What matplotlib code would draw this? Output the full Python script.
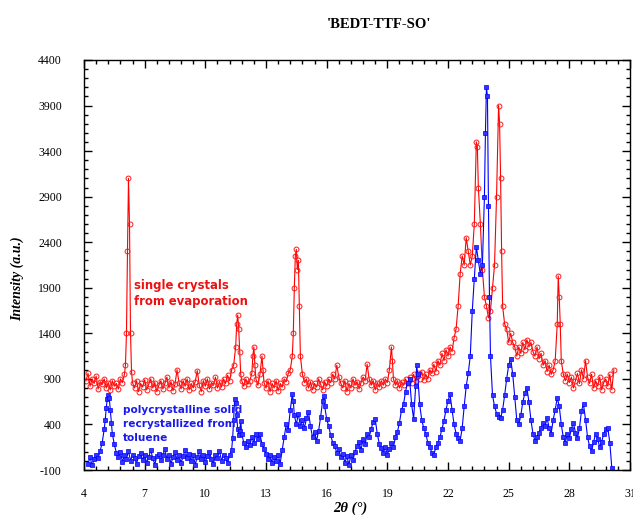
import matplotlib
matplotlib.use('Agg')
import matplotlib.pyplot as plt
from matplotlib.ticker import AutoMinorLocator

plt.rcParams['axes.unicode_minus'] = False

# single crystals from evaporation (red)
red_2theta = [
    4.1, 4.2, 4.3, 4.4, 4.5, 4.6, 4.7, 4.8, 4.9, 5.0,
    5.1, 5.2, 5.3, 5.4, 5.5, 5.6, 5.7, 5.8, 5.9, 6.0,
    6.05, 6.1, 6.15, 6.2, 6.25, 6.3, 6.35, 6.4, 6.5, 6.6,
    6.7, 6.8, 6.9, 7.0, 7.1, 7.2, 7.3, 7.4, 7.5, 7.6,
    7.7, 7.8, 7.9, 8.0, 8.1, 8.2, 8.3, 8.4, 8.5, 8.6,
    8.7, 8.8, 8.9, 9.0, 9.1, 9.2, 9.3, 9.4, 9.5, 9.6,
    9.7, 9.8, 9.9, 10.0, 10.1, 10.2, 10.3, 10.4, 10.5, 10.6,
    10.7, 10.8, 10.9, 11.0, 11.1, 11.2, 11.3, 11.4, 11.5, 11.55,
    11.6, 11.65, 11.7, 11.75, 11.8, 11.9, 12.0, 12.1, 12.2, 12.3,
    12.35, 12.4, 12.45, 12.5, 12.6, 12.7, 12.8, 12.85, 12.9, 13.0,
    13.1, 13.2, 13.3, 13.4, 13.5, 13.6, 13.7, 13.8, 13.9, 14.0,
    14.1, 14.2, 14.3, 14.35, 14.4, 14.45, 14.5, 14.55, 14.6, 14.65,
    14.7, 14.8, 14.9, 15.0, 15.1, 15.2, 15.3, 15.4, 15.5, 15.6,
    15.7, 15.8, 15.9, 16.0, 16.1, 16.2, 16.3, 16.4, 16.5, 16.6,
    16.7, 16.8, 16.9, 17.0, 17.1, 17.2, 17.3, 17.4, 17.5, 17.6,
    17.7, 17.8, 17.9, 18.0, 18.1, 18.2, 18.3, 18.4, 18.5, 18.6,
    18.7, 18.8, 18.9, 19.0, 19.1, 19.2, 19.25, 19.3, 19.4, 19.5,
    19.6, 19.7, 19.8, 19.9, 20.0, 20.1, 20.2, 20.3, 20.4, 20.5,
    20.6, 20.7, 20.8, 20.9, 21.0, 21.1, 21.2, 21.3, 21.4, 21.5,
    21.6, 21.7, 21.8, 21.9, 22.0, 22.1, 22.2, 22.3, 22.4, 22.5,
    22.6, 22.7, 22.8, 22.9, 23.0, 23.1, 23.2, 23.3, 23.4, 23.45,
    23.5, 23.6, 23.7, 23.8, 23.9, 24.0, 24.1, 24.2, 24.3, 24.4,
    24.5, 24.55, 24.6, 24.65, 24.7, 24.8, 24.9, 25.0, 25.1, 25.2,
    25.3, 25.4, 25.5, 25.6, 25.7, 25.8, 25.9, 26.0, 26.1, 26.2,
    26.3, 26.4, 26.5, 26.6, 26.7, 26.8, 26.9, 27.0, 27.1, 27.2,
    27.3, 27.4, 27.45, 27.5, 27.55, 27.6, 27.7, 27.8, 27.9, 28.0,
    28.1, 28.2, 28.3, 28.4, 28.5, 28.6, 28.7, 28.8, 28.9, 29.0,
    29.1, 29.2, 29.3, 29.4, 29.5, 29.6, 29.7, 29.8, 29.9, 30.0,
    30.1, 30.2,
]
red_counts = [
    880, 960, 820, 900, 850, 930, 790, 870, 840, 900,
    800, 860, 780, 880, 820, 850, 790, 900, 860, 950,
    1050, 1400, 2300, 3100, 2600, 1400, 980, 860, 800, 880,
    760, 850, 810, 890, 780, 840, 900, 800, 860, 760,
    830, 880, 790, 850, 920, 800, 870, 770, 840, 1000,
    860, 790, 880, 820, 900, 780, 850, 800, 870, 990,
    830, 760, 880, 820, 900, 790, 860, 830, 920, 800,
    870, 810, 900, 850, 940, 880, 1000, 1050, 1250, 1500,
    1600, 1450, 1200, 950, 880, 820, 900, 840, 880, 960,
    1150, 1250, 1050, 900, 830, 950, 1150, 1000, 860, 800,
    880, 760, 850, 800, 880, 770, 850, 810, 900, 870,
    960, 1000, 1150, 1400, 1900, 2250, 2320, 2100, 2200, 1700,
    1150, 950, 860, 900, 800, 870, 780, 850, 810, 900,
    840, 780, 870, 820, 900, 860, 950, 900, 1050, 920,
    850, 800, 880, 760, 850, 800, 900, 830, 870, 790,
    860, 920, 880, 1060, 900, 830, 880, 780, 860, 810,
    880, 830, 900, 860, 1000, 1250, 1100, 900, 830, 880,
    800, 870, 830, 900, 850, 920, 860, 950, 880, 960,
    900, 980, 890, 950, 900, 1000, 960, 1060, 980, 1100,
    1050, 1180, 1100, 1220, 1150, 1250, 1200, 1350, 1450, 1700,
    2050, 2250, 2150, 2450, 2300, 2150, 2250, 2600, 3500, 3450,
    3000, 2600, 2100, 1800, 1700, 1570, 1650, 1900, 2150, 2900,
    3900, 3700, 3100, 2300, 1700, 1500, 1450, 1300, 1400, 1300,
    1250, 1150, 1250, 1180, 1300, 1220, 1330, 1250, 1300, 1200,
    1150, 1250, 1120, 1180, 1050, 1100, 980, 1050, 950, 1000,
    1100, 1500, 2030, 1800, 1500, 1100, 950, 880, 950, 860,
    920, 800, 880, 960, 850, 1000, 900, 1100, 920, 850,
    950, 800, 880, 820, 920, 780, 860, 900, 820, 950,
    780, 1000,
]

# polycrystalline solid recrystallized from toluene (blue)
blue_2theta = [
    4.2, 4.3, 4.4, 4.5, 4.6, 4.7, 4.8, 4.9, 5.0, 5.05,
    5.1, 5.15, 5.2, 5.25, 5.3, 5.35, 5.4, 5.5, 5.6, 5.7,
    5.8, 5.9, 6.0, 6.1, 6.2, 6.3, 6.4, 6.5, 6.6, 6.7,
    6.8, 6.9, 7.0, 7.1, 7.2, 7.3, 7.4, 7.5, 7.6, 7.7,
    7.8, 7.9, 8.0, 8.1, 8.2, 8.3, 8.4, 8.5, 8.6, 8.7,
    8.8, 8.9, 9.0, 9.1, 9.2, 9.3, 9.4, 9.5, 9.6, 9.7,
    9.8, 9.9, 10.0, 10.1, 10.2, 10.3, 10.4, 10.5, 10.6, 10.7,
    10.8, 10.9, 11.0, 11.1, 11.2, 11.3, 11.35, 11.4, 11.45, 11.5,
    11.55, 11.6, 11.65, 11.7, 11.75, 11.8, 11.9, 12.0, 12.1, 12.2,
    12.3, 12.4, 12.5, 12.6, 12.7, 12.8, 12.9, 13.0, 13.1, 13.2,
    13.3, 13.4, 13.5, 13.6, 13.7, 13.8, 13.9, 14.0, 14.1, 14.2,
    14.3, 14.35, 14.4, 14.5, 14.6, 14.7, 14.8, 14.9, 15.0, 15.1,
    15.2, 15.3, 15.4, 15.5, 15.6, 15.7, 15.8, 15.85, 15.9, 16.0,
    16.1, 16.2, 16.3, 16.4, 16.5, 16.6, 16.7, 16.8, 16.9, 17.0,
    17.1, 17.2, 17.3, 17.4, 17.5, 17.6, 17.7, 17.8, 17.9, 18.0,
    18.1, 18.2, 18.3, 18.4, 18.5, 18.6, 18.7, 18.8, 18.9, 19.0,
    19.1, 19.2, 19.3, 19.4, 19.5, 19.6, 19.7, 19.8, 19.9, 20.0,
    20.1, 20.2, 20.3, 20.4, 20.45, 20.5, 20.6, 20.7, 20.8, 20.9,
    21.0, 21.1, 21.2, 21.3, 21.4, 21.5, 21.6, 21.7, 21.8, 21.9,
    22.0, 22.1, 22.2, 22.3, 22.4, 22.5, 22.6, 22.7, 22.8, 22.9,
    23.0, 23.1, 23.2, 23.3, 23.4, 23.5, 23.6, 23.7, 23.8, 23.85,
    23.9, 23.95, 24.0, 24.05, 24.1, 24.2, 24.3, 24.4, 24.5, 24.6,
    24.7, 24.8, 24.9, 25.0, 25.1, 25.2, 25.3, 25.4, 25.5, 25.6,
    25.7, 25.8, 25.9, 26.0, 26.1, 26.2, 26.3, 26.4, 26.5, 26.6,
    26.7, 26.8, 26.9, 27.0, 27.1, 27.2, 27.3, 27.4, 27.5, 27.6,
    27.7, 27.8, 27.9, 28.0, 28.1, 28.2, 28.3, 28.4, 28.5, 28.6,
    28.7, 28.8, 28.9, 29.0, 29.1, 29.2, 29.3, 29.4, 29.5, 29.6,
    29.7, 29.8, 29.9, 30.0, 30.1,
]
blue_counts = [
    -30, 40, -50, 20, 60, 30, 110, 200, 350, 450,
    580, 680, 720, 690, 560, 420, 300, 180, 90, 40,
    100, -10, 60, 20, 110, 0, 70, 30, -30, 50,
    90, 10, 60, -20, 40, 120, 30, -40, 50, 80,
    10, 60, 130, 20, 70, -30, 40, 100, 10, 60,
    -20, 50, 120, 30, 80, 0, 60, -40, 40, 110,
    20, 70, -10, 50, 100, 20, -30, 60, 30, 110,
    0, 70, 30, -20, 60, 120, 250, 450, 680, 640,
    500, 350, 280, 330, 440, 300, 200, 150, 220, 170,
    260, 200, 300, 240, 290, 190, 130, 80, 20, 60,
    -20, 40, 0, 70, -30, 120, 260, 400, 340, 560,
    730, 660, 500, 400, 520, 380, 450, 360, 470, 540,
    380, 260, 320, 220, 330, 480, 660, 715, 600, 460,
    380, 280, 200, 160, 90, 130, 40, 80, -20, 50,
    -40, 60, 10, 100, 160, 210, 120, 240, 180, 300,
    260, 350, 430, 460, 300, 190, 140, 90, 150, 70,
    130, 200, 150, 260, 320, 420, 560, 620, 760, 860,
    900, 620, 460, 820, 1050, 950, 620, 450, 360, 300,
    200, 150, 90, 70, 150, 200, 260, 350, 440, 560,
    660, 730, 560, 400, 300, 250, 220, 360, 600, 820,
    960, 1150, 1650, 2000, 2350, 2200, 2050, 2150, 2900, 3600,
    4100, 4000, 2800, 1800, 1150, 720, 600, 520, 480, 470,
    560, 720, 900, 1050, 1120, 950, 700, 450, 400, 500,
    650, 740, 800, 650, 450, 300, 220, 260, 310, 360,
    420, 380, 470, 360, 300, 450, 560, 690, 600, 400,
    260, 200, 300, 250, 350, 420, 310, 250, 360, 550,
    620, 450, 260, 160, 110, 210, 300, 240, 150, 210,
    300, 350, 360, 200, -80,
]

x_ticks = [4, 7, 10, 13, 16, 19, 22, 25, 28, 31]
y_ticks = [-100, 400, 900, 1400, 1900, 2400, 2900, 3400, 3900, 4400]

serif = 'Liberation Serif'

fig = plt.figure(figsize=(6.33, 5.17), dpi=100)
ax = fig.add_axes([0.1327, 0.0909, 0.8626, 0.7931])

ax.plot(red_2theta, red_counts, color='#ff0000', lw=0.8, marker='o', ms=3.5,
        mfc='none', mec='#ff1a1a', mew=0.7)
ax.plot(blue_2theta, blue_counts, color='#0000ff', lw=0.8, marker='s', ms=2.6,
        mfc='#3333ff', mec='#0000ff', mew=0.5)

ax.set_xlim(4, 31)
ax.set_ylim(-100, 4400)
ax.set_xticks(x_ticks)
ax.set_yticks(y_ticks)
ax.xaxis.set_minor_locator(AutoMinorLocator(5))
ax.yaxis.set_minor_locator(AutoMinorLocator(5))
ax.tick_params(which='both', direction='in', top=True, right=True, width=1)
ax.tick_params(which='major', length=6, labelsize=8.5, pad=13)
ax.tick_params(which='minor', length=3)
ax.tick_params(axis='y', which='major', pad=16)
for lab in ax.get_xticklabels() + ax.get_yticklabels():
    lab.set_fontfamily(serif)
for sp in ax.spines.values():
    sp.set_linewidth(1.0)

ax.text(6.47, 2000, 'single crystals\nfrom evaporation', color='#ee1111',
        fontsize=8.4, fontweight='bold', va='top', ha='left', linespacing=1.3)
ax.text(5.93, 610, 'polycrystalline solid\nrecrystallized from\ntoluene', color='#1a1aee',
        fontsize=7.6, fontweight='bold', va='top', ha='left', linespacing=1.45)

fig.text(0.599, 0.953, "'BEDT-TTF-SO'", ha='center', va='center', fontsize=10.5,
         fontweight='bold', family=serif)
fig.text(0.553, 0.017, '2θ (°)', ha='center', va='center', fontsize=10.5,
         fontweight='bold', style='italic', family=serif)
fig.text(0.027, 0.46, 'Intensity (a.u.)', ha='center', va='center', rotation=90,
         fontsize=10, fontweight='bold', style='italic', family=serif)

fig.savefig('out.png', dpi=100)
